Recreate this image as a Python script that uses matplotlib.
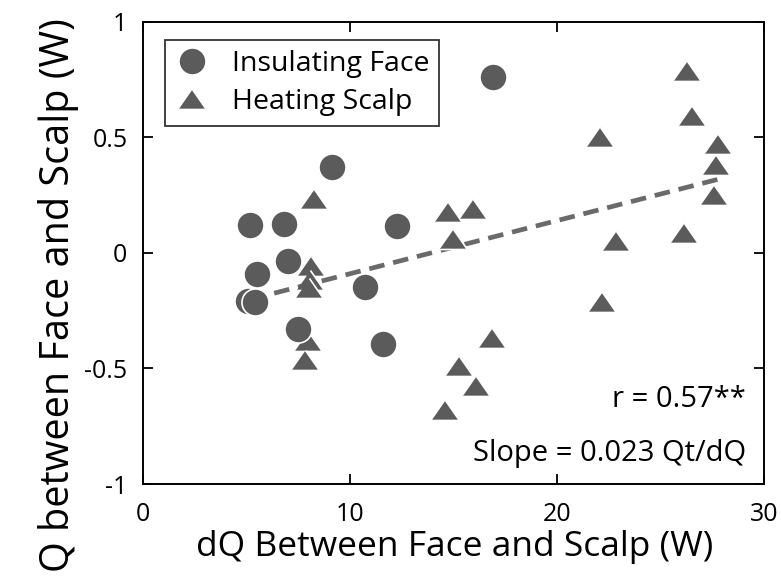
import matplotlib.pyplot as plt
import numpy as np

plt.rcParams['font.family'] = ['Open Sans', 'DejaVu Sans']

# Insulating Face (circles)
face_x = [16.9, 9.13, 5.16, 6.8, 12.29, 7.01, 5.51, 10.73, 5.08, 5.4, 7.49, 11.58]
face_y = [0.763, 0.374, 0.121, 0.124, 0.118, -0.033, -0.09, -0.147, -0.207, -0.21, -0.329, -0.396]

# Heating Scalp (triangles)
scalp_x = [8.25, 8.14, 8.06, 8.04, 7.98, 7.86, 14.73, 15.93, 14.97, 22.1, 22.87, 22.17,
           26.3, 26.52, 27.8, 27.7, 27.59, 26.15, 16.88, 15.26, 16.1, 14.62]
scalp_y = [0.233, -0.057, -0.115, -0.15, -0.379, -0.462, 0.176, 0.19, 0.061, 0.504, 0.05, -0.212,
           0.787, 0.594, 0.472, 0.379, 0.253, 0.086, -0.366, -0.49, -0.576, -0.68]

slope = 0.023
intercept = -0.32
fit_x = np.array([5.2, 27.9])
fit_y = slope * fit_x + intercept

grey = '#5b5b5b'
tri = [(-1, -0.72), (1, -0.72), (0, 0.72)]

fig = plt.figure(figsize=(7.81, 5.83), dpi=100)
ax = fig.add_axes([0.1827, 0.1698, 0.7955, 0.7925])

ax.plot(fit_x, fit_y, '--', color='#6a6a6a', lw=3.4, dashes=(3.3, 1.9), zorder=1)
ax.plot(face_x, face_y, 'o', ls='none', ms=19.5, color=grey, mec='white', mew=1.2,
        label='Insulating Face', zorder=3)
ax.plot(scalp_x, scalp_y, marker=tri, ls='none', ms=20, color=grey, mec='white', mew=1.2,
        label='Heating Scalp', zorder=2)

ax.set_xlim(0, 30)
ax.set_ylim(-1, 1)
ax.set_xticks([0, 10, 20, 30])
ax.set_yticks([-1, -0.5, 0, 0.5, 1])
ax.set_yticklabels(['-1', '-0.5', '0', '0.5', '1'])
ax.tick_params(direction='in', length=7, width=1.3, top=True, right=True, labelsize=18)
ax.tick_params(axis='y', pad=11)
ax.tick_params(axis='x', pad=13)
for s in ax.spines.values():
    s.set_linewidth(1.4)

ax.set_xlabel('dQ Between Face and Scalp (W)', fontsize=25.5)
ax.xaxis.set_label_coords(0.502, -0.099)
ax.set_ylabel('Q between Face and Scalp (W)', fontsize=28.5)
ax.yaxis.set_label_coords(-0.102, 0.408)

ax.text(0.971, 0.182, 'r = 0.57**', transform=ax.transAxes, ha='right', va='center', fontsize=21)
ax.text(0.971, 0.067, 'Slope = 0.023 Qt/dQ', transform=ax.transAxes, ha='right', va='center', fontsize=21)

leg = ax.legend(loc='upper left', bbox_to_anchor=(0.036, 0.961), fontsize=20.5, frameon=True,
                fancybox=False, edgecolor='black', handletextpad=0.8, borderpad=0.35,
                labelspacing=0.35, handlelength=1.2, borderaxespad=0)
leg.get_frame().set_linewidth(1.3)

fig.savefig('out.png', dpi=100)
